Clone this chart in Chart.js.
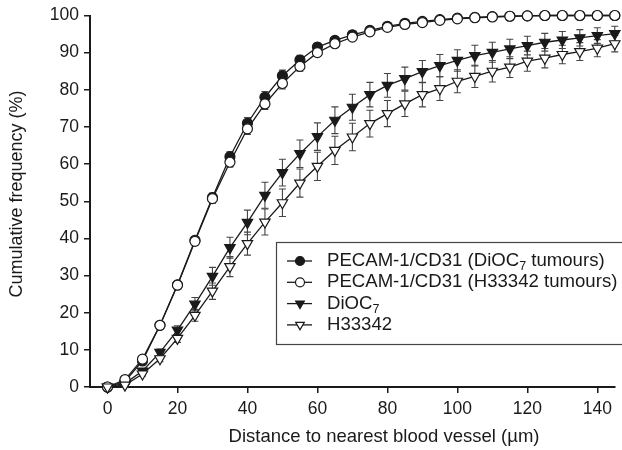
<!DOCTYPE html>
<html>
<head>
<meta charset="utf-8">
<script src="https://cdn.jsdelivr.net/npm/chart.js@4.4.0/dist/chart.umd.min.js"></script>
<style>
  html, body { margin: 0; padding: 0; background: #fff; }
  #wrap { width: 622px; height: 450px; }
</style>
</head>
<body>
<div id="wrap"><canvas id="cumChart" width="622" height="450"></canvas></div>
<script>
// distance from vessel (um), one point every 5 um
var distances = [0, 5, 10, 15, 20, 25, 30, 35, 40, 45, 50, 55, 60, 65, 70,
                 75, 80, 85, 90, 95, 100, 105, 110, 115, 120, 125, 130, 135, 140, 145];

// PECAM-1/CD31, DiOC7 tumours (filled circles)
var pecamDioc = [0, 1.5, 7, 16.6, 27.5, 39.5, 51, 62, 71, 78, 83.8, 88, 91.5, 93.3, 94.8,
                 96, 97.1, 97.9, 98.4, 98.9, 99.3, 99.5, 99.7, 99.8, 99.9, 100, 100, 100, 100, 100];
var pecamDiocErr = [0, 0.2, 0.4, 0.5, 0.6, 1, 1.2, 1.3, 1.5, 1.5, 1.5, 1.3, 1, 0.8, 0.6,
                    0.5, 0.4, 0.3, 0.3, 0.2, 0.2, 0.1, 0.1, 0.1, 0, 0, 0, 0, 0, 0];

// PECAM-1/CD31, H33342 tumours (open circles)
var pecamHoechst = [0, 2, 7.5, 16.6, 27.4, 39.2, 50.7, 60.5, 69.5, 76.2, 81.7, 86.3, 90, 92.4, 94.2,
                    95.6, 96.8, 97.6, 98.1, 98.7, 99.1, 99.4, 99.6, 99.8, 99.9, 100, 100, 100, 100, 100];
var pecamHoechstErr = [0, 0.2, 0.4, 0.5, 0.6, 1, 1.2, 1.3, 1.5, 1.5, 1.5, 1.3, 1, 0.8, 0.6,
                       0.5, 0.4, 0.3, 0.3, 0.2, 0.2, 0.1, 0.1, 0.1, 0, 0, 0, 0, 0, 0];

// DiOC7 (filled triangles)
var dioc = [0, 1, 4.3, 9.3, 15.3, 22.3, 29.8, 37.5, 44.3, 51.6, 57.7, 62.8, 67.4, 71.8, 75.3,
            78.7, 81.2, 83, 84.9, 86.5, 87.9, 89.2, 90.1, 91, 91.9, 92.8, 93.4, 94, 94.6, 95.1];
var diocErr = [0, 0.3, 0.6, 0.9, 1.2, 1.8, 2.4, 2.8, 3.3, 3.5, 3.6, 3.7, 3.7, 3.6, 3.5,
               3.3, 3.2, 3.1, 3, 3, 2.9, 2.8, 2.7, 2.6, 2.5, 2.4, 2.3, 2.2, 2.1, 2];

// H33342 (open triangles)
var hoechst = [0, 0.5, 3.5, 7.6, 13.1, 19.3, 25.8, 32.4, 38.6, 44.4, 49.6, 54.9, 59.4, 63.7, 67.3,
               70.9, 73.6, 76.2, 78.7, 80.3, 82.3, 83.6, 85, 86.1, 87.7, 88.5, 89.5, 90.3, 91.2, 92.4];
var hoechstErr = [0, 0.3, 0.5, 0.8, 1.1, 1.6, 2.2, 2.7, 3.1, 3.5, 3.7, 3.8, 3.8, 3.8, 3.7,
                  3.6, 3.5, 3.4, 3.3, 3.2, 3.1, 3, 2.9, 2.8, 2.7, 2.6, 2.5, 2.4, 2.3, 2.2];

var seriesLabels = ['PECAM-1/CD31 (DiOC\u2087 tumours)', 'PECAM-1/CD31 (H33342 tumours)', 'DiOC\u2087', 'H33342'];
var xTickValues = [0, 20, 40, 60, 80, 100, 120, 140];
var xTitle = 'Distance to nearest blood vessel (\u00b5m)';
var yTitle = 'Cumulative frequency (%)';

var FONT = '"Liberation Sans", Arial, Helvetica, sans-serif';
var INK = '#1a1a1a';

function toPoints(ys) {
    var pts = [];
    for (var i = 0; i < distances.length; i++) {
        pts.push({x: distances[i], y: ys[i]});
    }
    return pts;
}

function makeSet(label, ys, errs, style, filled, order) {
    return {
        label: label,
        data: toPoints(ys),
        errors: errs,
        borderColor: INK,
        borderWidth: 1.3,
        pointStyle: style,
        pointRotation: style === 'triangle' ? 180 : 0,
        pointRadius: style === 'triangle' ? 6 : 5,
        pointHoverRadius: style === 'triangle' ? 6 : 5,
        pointBackgroundColor: filled ? INK : '#fff',
        pointBorderColor: INK,
        pointBorderWidth: 1.2,
        tension: 0,
        clip: false,
        order: order
    };
}

// vertical error bars drawn under the lines
var errorBars = {
    id: 'errorBars',
    beforeDatasetsDraw: function(chart) {
        var ctx = chart.ctx;
        var xs = chart.scales.x, ys = chart.scales.y;
        ctx.save();
        ctx.strokeStyle = '#444';
        ctx.lineWidth = 1.1;
        chart.data.datasets.forEach(function(ds) {
            ds.data.forEach(function(p, i) {
                var e = ds.errors[i];
                if (!e) return;
                var px = xs.getPixelForValue(p.x);
                var top = ys.getPixelForValue(p.y + e);
                var bot = ys.getPixelForValue(p.y - e);
                ctx.beginPath();
                ctx.moveTo(px, top); ctx.lineTo(px, bot);
                ctx.moveTo(px - 3.5, top); ctx.lineTo(px + 3.5, top);
                ctx.moveTo(px - 3.5, bot); ctx.lineTo(px + 3.5, bot);
                ctx.stroke();
            });
        });
        ctx.restore();
    }
};

function drawMarker(ctx, ds, x, y, r) {
    ctx.beginPath();
    if (ds.pointStyle === 'triangle') {
        var h = r * Math.sin(Math.PI / 3);
        ctx.moveTo(x, y + r);
        ctx.lineTo(x - h, y - r / 2);
        ctx.lineTo(x + h, y - r / 2);
        ctx.closePath();
    } else {
        ctx.arc(x, y, r, 0, Math.PI * 2);
    }
    ctx.fillStyle = ds.pointBackgroundColor;
    ctx.fill();
    ctx.strokeStyle = ds.pointBorderColor;
    ctx.lineWidth = 1.2;
    ctx.stroke();
}

// text with the unicode subscript 7 drawn as a small lowered digit
function drawLabel(ctx, text, x, y) {
    var parts = text.split('\u2087');
    for (var i = 0; i < parts.length; i++) {
        ctx.font = '18.6px ' + FONT;
        ctx.fillText(parts[i], x, y);
        x += ctx.measureText(parts[i]).width;
        if (i < parts.length - 1) {
            ctx.font = '12.5px ' + FONT;
            ctx.fillText('7', x, y + 6);
            x += ctx.measureText('7').width;
        }
    }
}

var boxLegend = {
    id: 'boxLegend',
    afterDraw: function(chart) {
        var ctx = chart.ctx;
        var left = 276, top = 242, right = 626, bottom = 344;
        ctx.save();
        ctx.fillStyle = '#fff';
        ctx.fillRect(left, top, right - left, bottom - top);
        ctx.strokeStyle = '#444';
        ctx.lineWidth = 1.2;
        ctx.strokeRect(left + 0.5, top + 0.5, right - left, bottom - top);
        chart.data.datasets.forEach(function(ds, i) {
            var y = 261 + i * 21.3;
            ctx.strokeStyle = INK;
            ctx.lineWidth = 1.3;
            ctx.beginPath();
            ctx.moveTo(287, y); ctx.lineTo(312, y);
            ctx.stroke();
            drawMarker(ctx, ds, 300, y, ds.pointStyle === 'triangle' ? 5 : 4.5);
            ctx.fillStyle = INK;
            ctx.textBaseline = 'middle';
            ctx.textAlign = 'left';
            drawLabel(ctx, ds.label, 327, y);
        });
        // axis titles
        ctx.fillStyle = INK;
        ctx.font = '18.5px ' + FONT;
        ctx.textAlign = 'center';
        ctx.textBaseline = 'middle';
        ctx.fillText(xTitle, 384, 437);
        ctx.translate(17.5, 194);
        ctx.rotate(-Math.PI / 2);
        ctx.font = '18px ' + FONT;
        ctx.fillText(yTitle, 0, 0);
        ctx.restore();
    }
};

var ctx = document.getElementById('cumChart');
var chart = new Chart(ctx, {
    type: 'line',
    data: {
        datasets: [
            makeSet(seriesLabels[0], pecamDioc, pecamDiocErr, 'circle', true, 2),
            makeSet(seriesLabels[1], pecamHoechst, pecamHoechstErr, 'circle', false, 1),
            makeSet(seriesLabels[2], dioc, diocErr, 'triangle', true, 3),
            makeSet(seriesLabels[3], hoechst, hoechstErr, 'triangle', false, 0)
        ]
    },
    options: {
        responsive: false,
        devicePixelRatio: 1,
        animation: false,
        layout: { padding: { top: 15, right: 7, left: 0, bottom: 0 } },
        plugins: {
            legend: { display: false },
            tooltip: { enabled: false }
        },
        scales: {
            x: {
                type: 'linear',
                min: -5,
                max: 145,
                afterBuildTicks: function(s) {
                    s.ticks = xTickValues.map(function(v) { return {value: v}; });
                },
                afterFit: function(s) { s.height = 63; },
                ticks: { font: { family: FONT, size: 17.5 }, color: INK, padding: 6, maxRotation: 0, autoSkip: false },
                grid: { display: true, drawOnChartArea: false, drawTicks: true, tickLength: 6, color: INK, lineWidth: 1.5 },
                border: { display: true, color: INK, width: 2 }
            },
            y: {
                min: 0,
                max: 100,
                afterFit: function(s) { s.width = 90; },
                ticks: { stepSize: 10, font: { family: FONT, size: 17.5 }, color: INK, padding: 5 },
                grid: { display: true, drawOnChartArea: false, drawTicks: true, tickLength: 6, color: INK, lineWidth: 1.5 },
                border: { display: true, color: INK, width: 2 }
            }
        }
    },
    plugins: [errorBars, boxLegend]
});
</script>
</body>
</html>
